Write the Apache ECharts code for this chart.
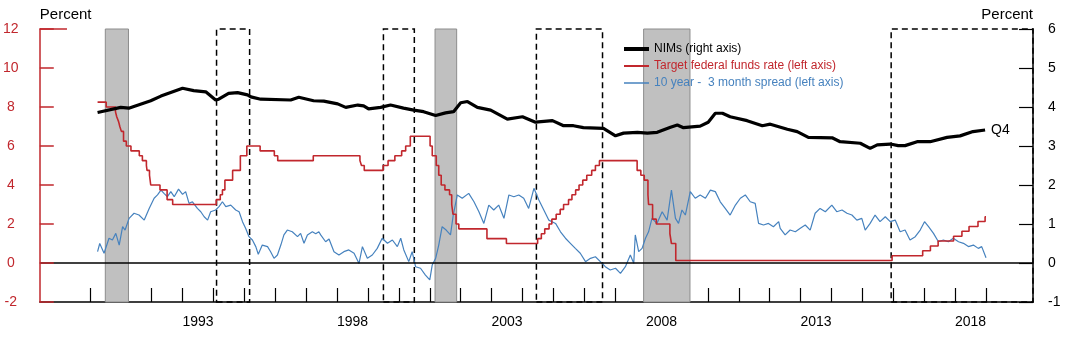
<!DOCTYPE html>
<html><head><meta charset="utf-8">
<script src="https://cdn.jsdelivr.net/npm/echarts@6/dist/echarts.min.js"></script>
<style>html,body{margin:0;padding:0;background:#fff}#c{width:1068px;height:338px}</style>
</head><body><div id="c"></div>
<script>
// ---- data ----
const nimYears = [1990.25,1991.00,1991.26,1991.97,1992.30,1993.00,1993.36,1993.75,1994.07,1994.17,1994.49,1994.78,1995.10,1995.21,1995.53,1996.50,1996.76,1997.24,1997.57,1998.02,1998.28,1998.67,1998.86,1999.02,1999.41,1999.73,2000.15,2000.48,2000.80,2001.19,2001.51,2001.77,2002.00,2002.22,2002.54,2002.97,2003.51,2004.00,2004.42,2004.97,2005.33,2005.65,2005.97,2006.62,2007.01,2007.27,2007.72,2008.04,2008.36,2008.79,2009.01,2009.21,2009.75,2010.01,2010.24,2010.47,2010.72,2011.27,2011.76,2012.02,2012.57,2012.89,2013.25,2014.02,2014.28,2014.93,2015.25,2015.48,2015.90,2016.16,2016.38,2016.77,2017.19,2017.74,2018.16,2018.58,2018.97];
const nimValues = [3.86,3.99,3.97,4.16,4.28,4.48,4.42,4.39,4.18,4.20,4.35,4.37,4.31,4.26,4.20,4.18,4.25,4.16,4.15,4.08,3.99,4.05,4.03,3.95,3.99,4.05,3.97,3.92,3.88,3.78,3.85,3.88,4.11,4.14,3.99,3.92,3.69,3.75,3.61,3.65,3.52,3.52,3.47,3.45,3.26,3.33,3.35,3.33,3.35,3.48,3.54,3.47,3.51,3.61,3.84,3.84,3.75,3.65,3.52,3.56,3.43,3.37,3.22,3.21,3.11,3.07,2.94,3.03,3.05,3.01,3.01,3.11,3.11,3.22,3.26,3.37,3.41];

const fedDates = [1990.25,1990.53,1990.83,1990.87,1990.93,1990.97,1991.02,1991.09,1991.18,1991.33,1991.60,1991.70,1991.83,1991.85,1991.93,1991.97,1992.27,1992.50,1992.68,1994.09,1994.22,1994.29,1994.37,1994.62,1994.87,1995.08,1995.51,1995.97,1996.08,1997.23,1998.74,1998.79,1998.88,1999.49,1999.65,1999.87,2000.09,2000.22,2000.37,2001.01,2001.08,2001.21,2001.29,2001.37,2001.49,2001.64,2001.71,2001.75,2001.85,2001.94,2002.85,2003.48,2004.49,2004.61,2004.72,2004.86,2004.95,2005.09,2005.22,2005.33,2005.49,2005.60,2005.72,2005.83,2005.95,2006.08,2006.24,2006.36,2006.49,2007.71,2007.83,2007.94,2008.06,2008.08,2008.21,2008.33,2008.77,2008.82,2008.96,2015.96,2016.95,2017.20,2017.45,2017.95,2018.22,2018.45,2018.74,2018.97,2019.00];
const fedRates = [8.25,8.00,7.75,7.50,7.25,7.00,6.75,6.25,6.00,5.75,5.50,5.25,5.00,4.75,4.50,4.00,3.75,3.25,3.00,3.25,3.50,3.75,4.25,4.75,5.50,6.00,5.75,5.50,5.25,5.50,5.25,5.00,4.75,5.00,5.25,5.50,5.75,6.00,6.50,6.00,5.50,5.00,4.50,4.00,3.75,3.50,3.00,2.50,2.00,1.75,1.25,1.00,1.25,1.50,1.75,2.00,2.25,2.50,2.75,3.00,3.25,3.50,3.75,4.00,4.25,4.50,4.75,5.00,5.25,4.75,4.50,4.25,3.50,3.00,2.25,2.00,1.50,1.00,0.125,0.375,0.625,0.875,1.125,1.375,1.625,1.875,2.125,2.375,2.375];

const spreadDates = [1990.25,1990.32,1990.46,1990.62,1990.73,1990.84,1990.95,1991.06,1991.14,1991.27,1991.43,1991.59,1991.76,1991.92,1992.08,1992.19,1992.30,1992.40,1992.51,1992.62,1992.73,1992.87,1993.00,1993.10,1993.21,1993.32,1993.48,1993.59,1993.70,1993.81,1993.91,1994.07,1994.18,1994.29,1994.40,1994.56,1994.72,1994.83,1994.94,1995.04,1995.15,1995.26,1995.37,1995.45,1995.58,1995.75,1995.85,1995.96,1996.07,1996.18,1996.28,1996.39,1996.55,1996.72,1996.82,1996.93,1997.04,1997.20,1997.31,1997.41,1997.47,1997.63,1997.74,1997.90,1998.06,1998.22,1998.38,1998.55,1998.71,1998.82,1998.98,1999.14,1999.30,1999.46,1999.63,1999.79,1999.95,2000.06,2000.16,2000.32,2000.43,2000.54,2000.70,2000.86,2001.00,2001.08,2001.19,2001.29,2001.40,2001.53,2001.67,2001.76,2001.89,2002.05,2002.26,2002.43,2002.59,2002.75,2002.91,2003.07,2003.23,2003.40,2003.56,2003.72,2003.88,2004.04,2004.20,2004.37,2004.53,2004.69,2004.85,2005.07,2005.23,2005.39,2005.55,2005.71,2005.87,2006.04,2006.20,2006.36,2006.52,2006.68,2006.84,2007.01,2007.17,2007.33,2007.49,2007.60,2007.65,2007.76,2007.87,2007.98,2008.08,2008.19,2008.35,2008.52,2008.68,2008.82,2008.95,2009.05,2009.16,2009.27,2009.43,2009.59,2009.75,2009.92,2010.08,2010.24,2010.40,2010.56,2010.72,2010.89,2011.05,2011.21,2011.37,2011.53,2011.64,2011.80,2011.96,2012.12,2012.29,2012.34,2012.50,2012.66,2012.83,2012.99,2013.15,2013.31,2013.47,2013.63,2013.80,2014.01,2014.17,2014.34,2014.50,2014.66,2014.82,2014.98,2015.09,2015.25,2015.41,2015.57,2015.74,2015.90,2016.06,2016.22,2016.38,2016.54,2016.71,2016.87,2017.01,2017.14,2017.30,2017.46,2017.62,2017.78,2017.94,2018.11,2018.27,2018.43,2018.59,2018.75,2018.86,2019.00];
const spreadValues = [0.58,1.00,0.50,1.27,1.18,1.52,0.92,1.86,1.69,2.29,2.55,2.46,2.20,2.80,3.32,3.49,3.74,3.57,3.40,3.66,3.40,3.79,3.52,3.66,3.06,3.14,2.80,2.63,2.37,2.20,2.63,2.72,2.89,3.14,2.89,2.97,2.72,2.63,2.12,1.78,1.35,1.18,0.84,0.45,0.92,0.84,0.58,0.24,0.41,0.92,1.44,1.69,1.60,1.35,1.52,1.01,1.44,1.60,1.50,1.60,1.44,1.09,1.23,0.58,0.41,0.58,0.67,0.50,-0.02,0.84,0.24,0.41,0.75,1.27,1.01,1.18,0.84,1.27,0.67,0.07,0.58,-0.19,-0.27,-0.62,-0.87,-0.10,0.24,0.92,1.86,1.69,1.44,2.46,3.49,3.32,3.57,3.14,2.63,2.03,2.97,2.72,2.97,2.29,3.49,3.40,3.49,3.32,2.80,3.83,3.23,2.72,2.20,2.03,1.60,1.27,1.01,0.75,0.50,0.07,0.24,0.32,0.07,-0.19,-0.36,-0.27,-0.53,-0.19,0.41,-0.02,1.44,0.58,0.75,1.27,1.60,2.29,2.03,2.63,2.20,3.74,2.29,2.03,2.72,2.46,3.66,3.32,3.49,3.32,3.74,3.66,3.14,2.80,2.46,2.97,3.32,3.49,3.14,3.06,2.03,1.95,2.03,1.86,2.12,1.78,1.44,1.69,1.60,1.78,1.95,1.69,2.55,2.80,2.63,2.97,2.63,2.72,2.55,2.46,2.20,2.29,1.69,2.03,2.46,2.12,2.37,2.12,2.20,1.60,1.69,1.18,1.35,1.69,2.12,1.86,1.52,1.09,1.18,1.09,1.27,1.09,1.01,0.84,0.92,0.75,0.84,0.27];

const tickYears = [1990,1991,1992,1993,1994,1995,1996,1997,1998,1999,2000,2001,2002,2003,2004,2005,2006,2007,2008,2009,2010,2011,2012,2013,2014,2015,2016,2017,2018,2019];
const labelYears = [1993,1998,2003,2008,2013,2018];
const recessions = [[1990.5,1991.25],[2001.17,2001.87],[2007.92,2009.42]];
const tightening = [[1994.1,1995.17],[1999.5,2000.5],[2004.45,2006.59],[2015.93,2020.52]];
const seriesNames = ['NIMs (right axis)','Target federal funds rate (left axis)','10 year -  3 month spread (left axis)'];

// ---- chart ----
const X_MIN = 1988.38, X_MAX = 2020.52;
const RED = '#c1272d', BLUE = '#4682be';
const FONT = '"Liberation Sans", Arial, sans-serif';
const zip = (a,b) => a.map((v,i)=>[v,b[i]]);

const chart = echarts.init(document.getElementById('c'), null, {renderer:'canvas'});
chart.setOption({
  animation:false,
  textStyle:{fontFamily:FONT},
  grid:{left:39, right:35, top:29, bottom:36, containLabel:false},
  legend:{
    orient:'vertical', left:617, top:38, itemWidth:25, itemHeight:12, itemGap:5,
    itemStyle:{opacity:0},
    textStyle:{fontSize:12, fontFamily:FONT}, selectedMode:false,
    data:[
      {name:seriesNames[0], textStyle:{color:'#000'}, lineStyle:{width:4}},
      {name:seriesNames[1], textStyle:{color:RED}, lineStyle:{width:2}},
      {name:seriesNames[2], textStyle:{color:BLUE}, lineStyle:{width:1.5}}
    ]
  },
  xAxis:{
    type:'value', min:X_MIN, max:X_MAX, position:'bottom',
    axisLine:{onZero:false, lineStyle:{color:'#000', width:1.5}},
    axisTick:{inside:true, length:14, lineStyle:{color:'#000', width:1.2}, customValues:tickYears},
    axisLabel:{customValues:labelYears.map(y=>y+0.5), formatter:v=>String(Math.floor(v)), color:'#000', fontSize:14, margin:13, fontFamily:FONT},
    splitLine:{show:false}
  },
  yAxis:[
    {type:'value', min:-2, max:12, interval:2, position:'left', z:10,
     name:'Percent', nameLocation:'end', nameGap:7,
     nameTextStyle:{color:'#000', fontSize:15, align:'left', verticalAlign:'bottom', fontFamily:FONT},
     axisLine:{show:true, lineStyle:{color:RED, width:1.5}},
     axisTick:{show:true, inside:true, length:14, lineStyle:{color:RED, width:1.5}},
     axisLabel:{color:RED, fontSize:14, align:'center', margin:29, fontFamily:FONT},
     splitLine:{show:false}},
    {type:'value', min:-1, max:6, interval:1, position:'right',
     name:'Percent', nameLocation:'end', nameGap:7,
     nameTextStyle:{color:'#000', fontSize:15, align:'right', verticalAlign:'bottom', fontFamily:FONT},
     axisLine:{show:true, lineStyle:{color:'#000', width:1.5}},
     axisTick:{show:true, inside:true, length:14, lineStyle:{color:'#000', width:1.2}},
     axisLabel:{color:'#000', fontSize:14, align:'left', margin:15, fontFamily:FONT},
     splitLine:{show:false}}
  ],
  series:[
    {name:'shading', type:'line', data:[], z:1, silent:true,
     markArea:{silent:true, itemStyle:{color:'#c0c0c0', borderColor:'#8c8c8c', borderWidth:1},
       data:recessions.map(r=>[{xAxis:r[0]},{xAxis:r[1]}])}},
    {name:'tight', type:'line', data:[], z:3, silent:true,
     markArea:{silent:true, itemStyle:{color:'rgba(0,0,0,0)', borderColor:'#000', borderWidth:1.5, borderType:[6,4]},
       data:tightening.map(r=>[{xAxis:r[0]},{xAxis:r[1]}])}},
    {name:seriesNames[2], type:'line', yAxisIndex:0, z:4, symbol:'none', showSymbol:false,
     data:zip(spreadDates, spreadValues), color:BLUE, lineStyle:{color:BLUE, width:1.2},
     markLine:{silent:true, symbol:'none', label:{show:false}, lineStyle:{color:'#000', width:1.5, type:'solid'},
       data:[{yAxis:0}]}},
    {name:seriesNames[1], type:'line', yAxisIndex:0, z:5, symbol:'none', showSymbol:false, step:'end',
     data:zip(fedDates, fedRates), color:RED, lineStyle:{color:RED, width:1.6},
     markLine:{silent:true, symbol:'none', label:{show:false}, lineStyle:{color:RED, width:1.5, type:'solid'},
       data:[[{coord:[X_MIN,12]},{coord:[1989.26,12]}]]}},
    {name:seriesNames[0], type:'line', yAxisIndex:1, z:6, symbol:'none', showSymbol:false,
     data:zip(nimYears, nimValues), color:'#000', lineStyle:{color:'#000', width:3.2},
     endLabel:{show:true, formatter:'Q4', color:'#000', fontSize:14, distance:6, fontFamily:FONT}}
  ]
});
</script>
</body></html>
